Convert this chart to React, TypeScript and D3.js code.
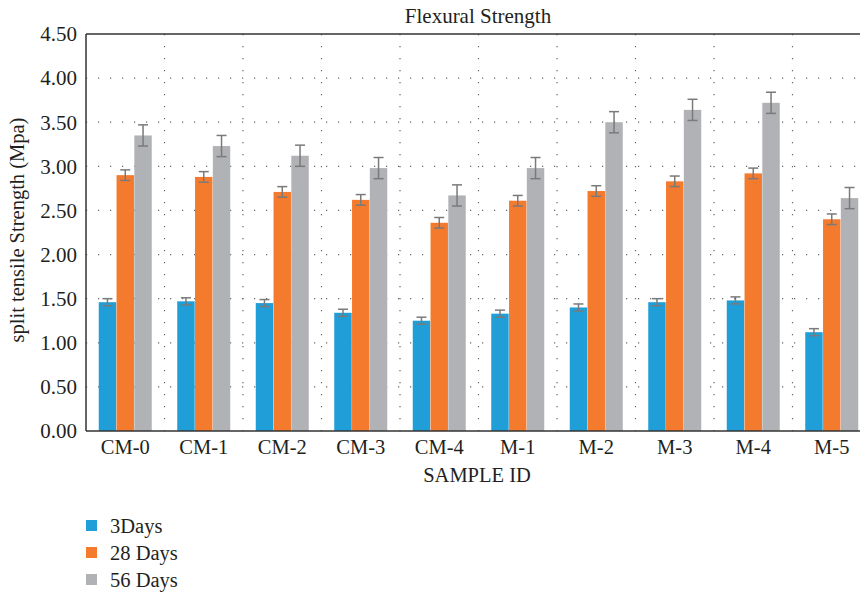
import React from "react";
import * as d3 from "d3";

const categories = ["CM-0", "CM-1", "CM-2", "CM-3", "CM-4", "M-1", "M-2", "M-3", "M-4", "M-5"];
const seriesNames = ["3Days", "28 Days", "56 Days"];
const days3 = [1.46, 1.47, 1.45, 1.34, 1.25, 1.33, 1.40, 1.46, 1.48, 1.12];
const days28 = [2.90, 2.88, 2.71, 2.62, 2.36, 2.61, 2.72, 2.83, 2.92, 2.40];
const days56 = [3.35, 3.23, 3.12, 2.98, 2.67, 2.98, 3.50, 3.64, 3.72, 2.64];
const err3 = [0.04, 0.04, 0.04, 0.04, 0.04, 0.04, 0.04, 0.04, 0.04, 0.04];
const err28 = [0.06, 0.06, 0.06, 0.06, 0.06, 0.06, 0.06, 0.06, 0.06, 0.06];
const err56 = [0.12, 0.12, 0.12, 0.12, 0.12, 0.12, 0.12, 0.12, 0.12, 0.12];
const yTicks = [0, 0.5, 1, 1.5, 2, 2.5, 3, 3.5, 4, 4.5];
const colors = ["#1f9ed8", "#f47a2e", "#b1b2b5"];

const W = 860, H = 592;
const M = { left: 86, right: 871, top: 34, bottom: 431 };
const FONT = '"Liberation Serif", "DejaVu Serif", serif';
const txt = { fontFamily: FONT, fill: "#231f20" } as const;

export default function App() {
  const values = [days3, days28, days56];
  const errs = [err3, err28, err56];
  const x = d3.scaleBand<string>().domain(categories).range([M.left, M.right]).padding(0);
  const groupW = 53;
  const innerPad = (x.bandwidth() - groupW) / 2;
  const inner = d3.scaleBand<number>().domain([0, 1, 2]).range([innerPad, innerPad + groupW]).paddingOuter(0).paddingInner(0.02);
  const y = d3.scaleLinear().domain([0, 4.5]).range([M.bottom, M.top]);
  const boundaries = categories.map((c) => (x(c) as number) + x.bandwidth()).slice(0, -1);

  return (
    <svg width={W} height={H} style={{ position: "absolute", left: 0, top: 0, background: "#fff" }}>
      <rect x={0} y={0} width={W} height={H} fill="#fff" />
      {yTicks.slice(1, -1).map((t) => (
        <line key={"h" + t} x1={M.left} x2={M.right} y1={y(t)} y2={y(t)} stroke="#666" strokeWidth={1.2} strokeDasharray="1.2 10.8" />
      ))}
      {boundaries.map((b, i) => (
        <line key={"v" + i} x1={b} x2={b} y1={M.top} y2={M.bottom} stroke="#666" strokeWidth={1.2} strokeDasharray="1.2 10.8" />
      ))}
      {categories.map((c, ci) => (
        <g key={c} transform={`translate(${x(c)},0)`}>
          {values.map((vals, si) => {
            const bx = inner(si) as number;
            const bw = inner.bandwidth();
            const v = vals[ci];
            const e = errs[si][ci];
            const cx = bx + bw / 2;
            return (
              <g key={si}>
                <rect x={bx} y={y(v)} width={bw} height={y(0) - y(v)} fill={colors[si]} />
                <line x1={cx} x2={cx} y1={y(v + e)} y2={y(v - e)} stroke="#7a7a7a" strokeWidth={1.5} />
                <line x1={cx - 5} x2={cx + 5} y1={y(v + e)} y2={y(v + e)} stroke="#7a7a7a" strokeWidth={1.5} />
                <line x1={cx - 5} x2={cx + 5} y1={y(v - e)} y2={y(v - e)} stroke="#7a7a7a" strokeWidth={1.5} />
              </g>
            );
          })}
        </g>
      ))}
      <line x1={M.left} x2={M.right} y1={M.top} y2={M.top} stroke="#333" strokeWidth={1.5} />
      <line x1={M.left} x2={M.right} y1={M.bottom} y2={M.bottom} stroke="#333" strokeWidth={1.5} />
      <line x1={M.left} x2={M.left} y1={M.top} y2={M.bottom} stroke="#333" strokeWidth={1.5} />
      {yTicks.map((t) => (
        <text key={"yl" + t} x={M.left - 9} y={y(t)} dy="0.35em" textAnchor="end" fontSize={21} style={txt}>
          {t.toFixed(2)}
        </text>
      ))}
      {categories.map((c) => (
        <text key={"xl" + c} x={(x(c) as number) + x.bandwidth() / 2} y={454} textAnchor="middle" fontSize={20.5} style={txt}>
          {c}
        </text>
      ))}
      <text x={478} y={23} textAnchor="middle" fontSize={21} style={txt}>Flexural Strength</text>
      <text x={477} y={482} textAnchor="middle" fontSize={20.5} style={txt}>SAMPLE ID</text>
      <text transform={`translate(24,230) rotate(-90)`} textAnchor="middle" fontSize={20.5} style={txt}>
        split tensile Strength (Mpa)
      </text>
      {seriesNames.map((s, i) => (
        <g key={s} transform={`translate(86,${520 + i * 27})`}>
          <rect x={0} y={0} width={11} height={11} fill={colors[i]} />
          <text x={24} y={5.5} dy="0.35em" fontSize={20.5} style={txt}>{s}</text>
        </g>
      ))}
    </svg>
  );
}
